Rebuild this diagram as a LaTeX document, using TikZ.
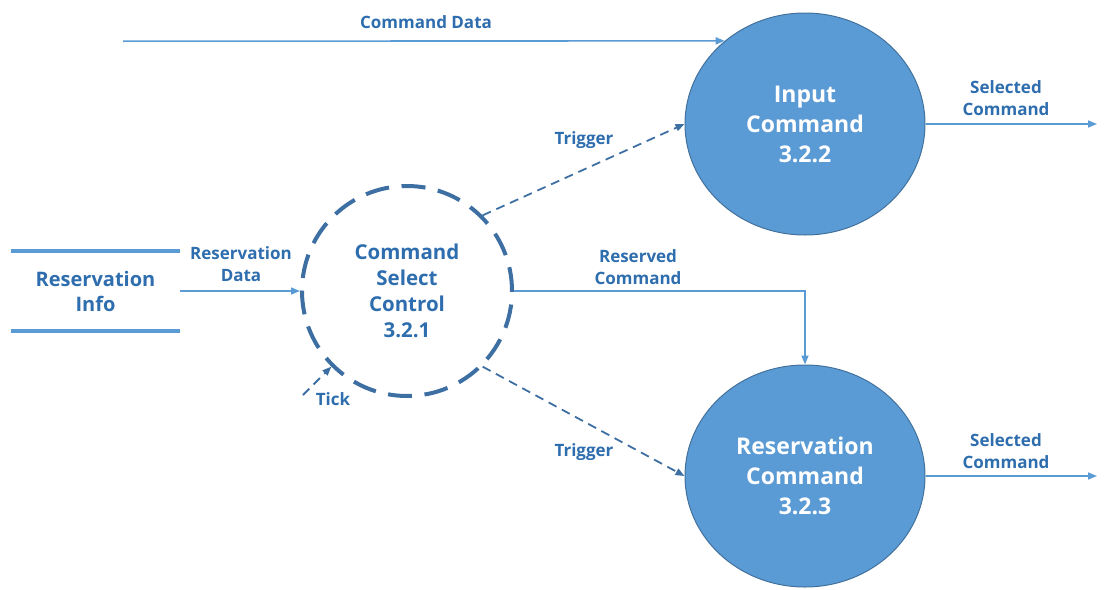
\documentclass[tikz,border=0pt]{standalone}
\usepackage{fontspec}
\setmainfont{Open Sans}
\usetikzlibrary{shapes.geometric,arrows.meta}
\definecolor{txt}{HTML}{2E6DAE}
\definecolor{fillc}{HTML}{5B9BD5}
\definecolor{edgec}{HTML}{41719C}
\definecolor{flowc}{HTML}{5B9BD5}
\definecolor{dashc}{HTML}{3E6FA3}
\begin{document}
\begin{tikzpicture}[x=1pt,y=-1pt,
 proc/.style={ellipse, draw=edgec, fill=fillc, line width=1pt, minimum width=240pt, minimum height=222pt, inner sep=0pt, text=white, font=\bfseries\fontsize{23}{30}\selectfont, align=center},
 ctrl/.style={circle, draw=dashc, line width=4pt, dash pattern=on 24pt off 12.6pt, minimum size=210pt, inner sep=0pt, text=txt, font=\bfseries\fontsize{20.5}{26}\selectfont, align=center},
 storebox/.style={minimum width=169pt, minimum height=80pt, inner sep=0pt, text=txt, font=\bfseries\fontsize{20}{25}\selectfont, align=center},
 lbl/.style={text=txt, font=\bfseries\fontsize{17}{22}\selectfont, align=center, inner sep=0pt},
 flow/.style={draw=flowc, line width=1.6pt, -{Triangle[length=9pt,width=7pt]}},
 ctl/.style={draw=dashc, line width=1.8pt, dash pattern=on 9pt off 6pt, -{Triangle[length=9pt,width=7pt]}},
]
\useasboundingbox (0,0) rectangle (1105,589);

% processes
\node[proc] (ic) at (805,124) {Input\\Command\\3.2.2};
\node[proc] (rc) at (805,476) {Reservation\\Command\\3.2.3};
\node[ctrl] (sc) at (407,291) {Command\\Select\\Control\\3.2.1};

% data store
\node[storebox] (ri) at (95.5,291) {Reservation\\Info};
\draw[draw=flowc, line width=4pt] (ri.north west) -- (ri.north east);
\draw[draw=flowc, line width=4pt] (ri.south west) -- (ri.south east);

% free ends
\coordinate (cdstart) at (123,41.2);
\coordinate (tickstart) at (303,395);
\coordinate (out1) at (1097,124);
\coordinate (out2) at (1097,476);

% flows
\draw[flow] (cdstart) -- (ic.134);
\draw[flow] (ri.east) -- (sc.west);
\draw[flow] (sc.east) -| (rc.north);
\draw[flow] (ic.east) -- (out1);
\draw[flow] (rc.east) -- (out2);

% control flows
\draw[ctl] (sc.45) -- (ic.west);
\draw[ctl] (sc.-45) -- (rc.west);
\draw[ctl] (tickstart) -- (sc.225);

% labels
\node[lbl] (l1) at (426,22) {Command Data};
\node[lbl] (l2) at (241,264) {Reservation\\Data};
\node[lbl] (l3) at (584,140) {Trigger};
\node[lbl] (l4) at (584,452) {Trigger};
\node[lbl] (l5) at (638,267) {Reserved\\Command};
\node[lbl] (l6) at (333,399) {Tick};
\node[lbl] (l7) at (1006,98) {Selected\\Command};
\node[lbl] (l8) at (1006,451) {Selected\\Command};
\end{tikzpicture}
\end{document}
